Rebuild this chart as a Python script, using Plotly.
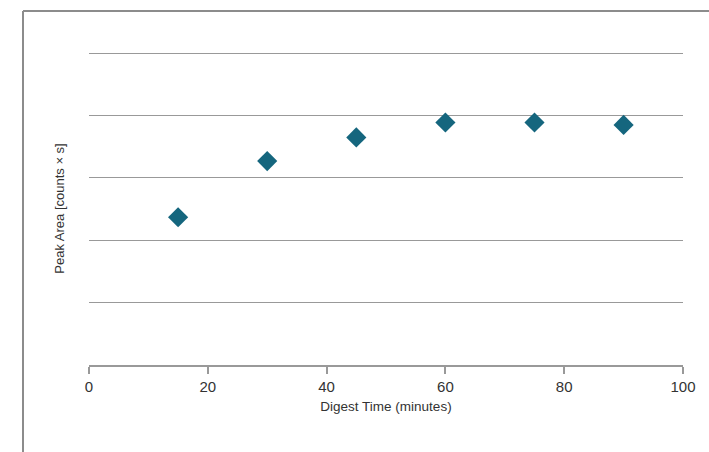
import plotly.graph_objects as go

# Digest time series
digest_time = [15, 30, 45, 60, 75, 90]
peak_area = [2.37, 3.27, 3.65, 3.89, 3.89, 3.85]
x_ticks = [0, 20, 40, 60, 80, 100]
y_grid = [1, 2, 3, 4, 5]

FONT = "Liberation Sans Narrow, Liberation Sans, Arial, sans-serif"
W, H = 709, 452
L, R, T, B = 89, 26, 52, 87
Y_TOP = 5.02

fig = go.Figure(
    go.Scatter(
        x=digest_time,
        y=peak_area,
        mode="markers",
        marker=dict(symbol="diamond", size=15.5, color="#15667E", line=dict(width=0)),
        hoverinfo="x+y",
    )
)

pw = W - L - R
ph = H - T - B
# outer frame (left and top edges)
fx0 = (23 - L) / pw
fy1 = (H - B - 11) / ph
fy0 = (H - B - H) / ph
fx1 = (W - L) / pw
frame = dict(color="#8c8c8c", width=2)
fig.add_shape(type="line", xref="paper", yref="paper", x0=fx0, x1=fx0, y0=fy0, y1=fy1, line=frame)
fig.add_shape(type="line", xref="paper", yref="paper", x0=fx0, x1=fx1, y0=fy1, y1=fy1, line=frame)

fig.update_layout(
    width=W,
    height=H,
    margin=dict(l=L, r=R, t=T, b=B),
    paper_bgcolor="white",
    plot_bgcolor="white",
    showlegend=False,
    font=dict(family=FONT, size=14, color="#333333"),
    xaxis=dict(
        range=[0, 100],
        tickvals=x_ticks,
        ticks="outside",
        ticklen=7,
        tickcolor="#999999",
        tickwidth=1.5,
        showline=True,
        linecolor="#999999",
        linewidth=1.5,
        showgrid=False,
        zeroline=False,
        tickfont=dict(family=FONT, size=15, color="#333333"),
        title=dict(text="Digest Time (minutes)", font=dict(family=FONT, size=13.5, color="#333333"), standoff=8),
    ),
    yaxis=dict(
        range=[0, Y_TOP],
        tickvals=y_grid,
        showticklabels=False,
        showgrid=True,
        gridcolor="#999999",
        gridwidth=1.2,
        zeroline=False,
        showline=False,
        title=dict(text="Peak Area [counts × s]", font=dict(family=FONT, size=13, color="#333333"), standoff=20),
    ),
)

fig.write_html("out.html")
